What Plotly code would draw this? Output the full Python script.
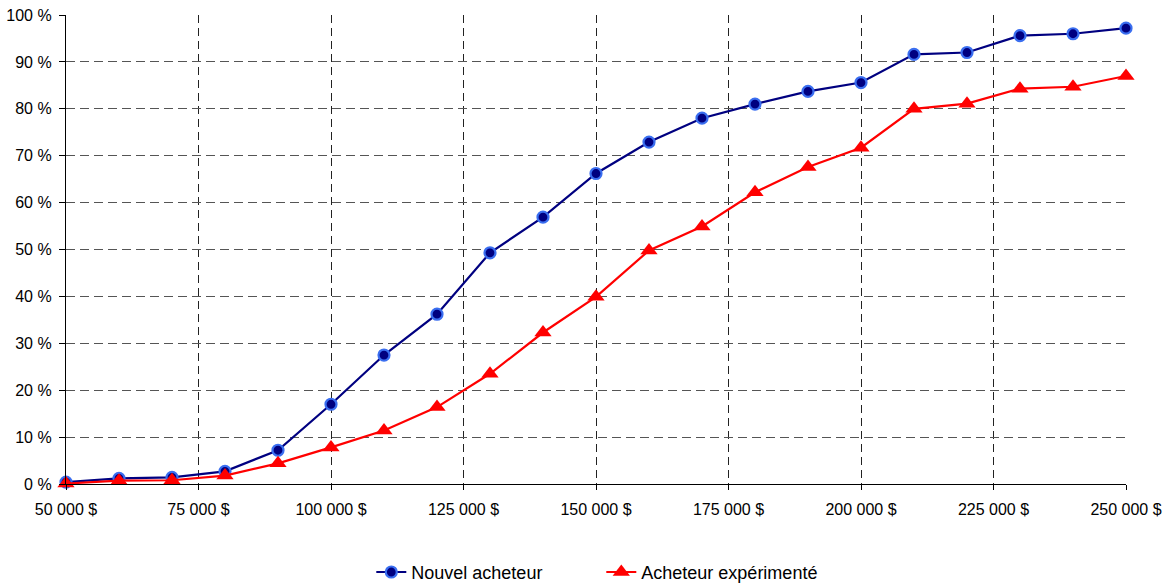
import plotly.graph_objects as go

prix = [50000, 60000, 70000, 80000, 90000, 100000, 110000, 120000, 130000, 140000,
        150000, 160000, 170000, 180000, 190000, 200000, 210000, 220000, 230000, 240000, 250000]
nouvel = [0.4, 1.2, 1.4, 2.7, 7.2, 17.0, 27.5, 36.2, 49.3, 56.9,
          66.2, 72.9, 78.0, 81.0, 83.7, 85.6, 91.6, 92.0, 95.6, 96.0, 97.2]
experimente = [0.1, 0.7, 0.8, 1.8, 4.4, 7.8, 11.4, 16.4, 23.5, 32.3,
               39.9, 49.8, 54.9, 62.2, 67.6, 71.7, 80.0, 81.1, 84.3, 84.7, 87.0]

x_ticks = [50000, 75000, 100000, 125000, 150000, 175000, 200000, 225000, 250000]
x_labels = ["50 000 $", "75 000 $", "100 000 $", "125 000 $", "150 000 $",
            "175 000 $", "200 000 $", "225 000 $", "250 000 $"]
y_ticks = [0, 10, 20, 30, 40, 50, 60, 70, 80, 90, 100]
y_labels = ["0 %", "10 %", "20 %", "30 %", "40 %", "50 %", "60 %", "70 %", "80 %", "90 %", "100 %"]

fig = go.Figure()
fig.add_trace(go.Scatter(
    x=prix, y=nouvel, name="Nouvel acheteur", mode="lines+markers",
    line=dict(color="#000080", width=2.2),
    marker=dict(symbol="circle", size=11, color="#000080",
                line=dict(color="#3A6EF0", width=2.2)),
    cliponaxis=False,
))
fig.add_trace(go.Scatter(
    x=prix, y=experimente, name="Acheteur expérimenté", mode="lines+markers",
    line=dict(color="#FF0000", width=2.2),
    marker=dict(symbol="triangle-up", size=15, color="#FF0000",
                line=dict(color="#FF0000", width=0)),
    cliponaxis=False,
))

fig.update_layout(
    width=1163, height=584,
    margin=dict(l=66, r=37, t=15, b=100, autoexpand=False),
    paper_bgcolor="white", plot_bgcolor="white",
    font=dict(family="Liberation Sans, Arial, sans-serif", color="black", size=16),
    showlegend=True,
    legend=dict(orientation="h", x=0.505, xanchor="center", yref="container",
                y=0.02, yanchor="middle", font=dict(size=18), entrywidth=185,
                itemwidth=30),
)
fig.update_xaxes(
    range=[50000, 250000], tickvals=x_ticks, ticktext=x_labels,
    showgrid=True, gridcolor="#222222", griddash="8px,5px", gridwidth=1,
    showline=True, linecolor="black", linewidth=1.2,
    ticks="outside", ticklen=5, tickcolor="black", automargin=False,
    ticklabelstandoff=6, zeroline=False, tickfont=dict(size=16),
)
fig.update_yaxes(
    range=[0, 100], tickvals=y_ticks, ticktext=y_labels,
    showgrid=True, gridcolor="#555555", griddash="9px,5px", gridwidth=1,
    showline=True, linecolor="black", linewidth=1.2,
    ticks="outside", ticklen=6, tickcolor="black", automargin=False,
    ticklabelstandoff=4, zeroline=False, tickfont=dict(size=16),
)

fig.write_html("out.html")
